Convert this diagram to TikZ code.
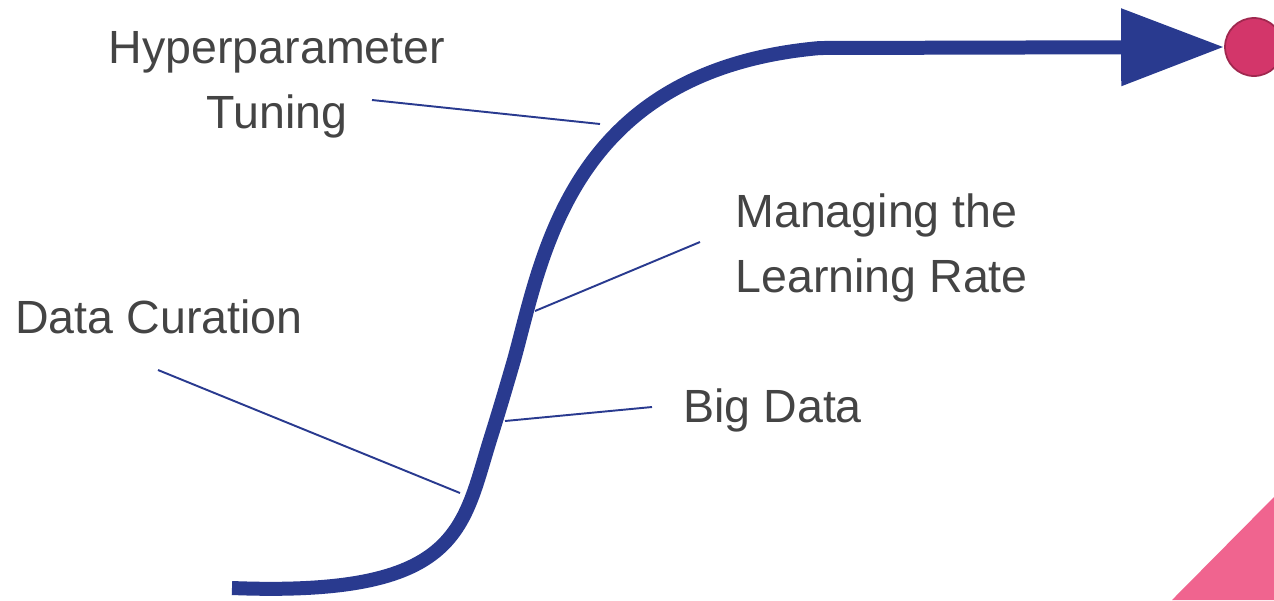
\documentclass[tikz,border=0pt]{standalone}
\usepackage{fontspec}
\setmainfont{Liberation Sans}
\usetikzlibrary{arrows.meta}
\definecolor{curveblue}{HTML}{293A8F}
\definecolor{goalred}{HTML}{D3366A}
\definecolor{goalrim}{HTML}{A0284F}
\definecolor{cornerpink}{HTML}{F0648F}
\definecolor{labelgray}{HTML}{444444}

\begin{document}
\begin{tikzpicture}[
        x=0.02cm, y=-0.02cm,
        label/.style={text=labelgray, inner sep=0pt, font=\fontsize{26.5}{37}\selectfont},
        curve/.style={line width=0.28cm, curveblue},
        leader/.style={line width=1.1pt, curveblue}
      ]
        \useasboundingbox (0,0) rectangle (1274,600);
        % corner decoration
        \fill[cornerpink] (1172,600) -- (1274,497) -- (1274,600) -- cycle;
        % goal and the rising curve
        \node[circle, minimum size=1.16cm, inner sep=0pt, fill=goalred, draw=goalrim, line width=1pt] (goal) at (1254,47) {};
        \coordinate (start) at (232,588);
        \coordinate (knee) at (490,440);
        \coordinate (mid) at (514,360);
        \coordinate (top) at (820,48);
        \draw[curve, -{Triangle[length=2.06cm, width=1.48cm]}]
          (start) .. controls (460,597) and (462,530) .. (knee)
          .. controls (500,408) and (505,391) .. (mid)
          .. controls (543,255) and (570,70) .. (top) -- (goal.west);
        % labels (base is the last line)
        \node[label, anchor=base, align=center] (tuning) at (277,128) {Hyperparameter\\Tuning};
        \node[label, anchor=base west, align=left] (lrate) at (735,292) {Managing the\\Learning Rate};
        \node[label, anchor=base west] (curation) at (15,333) {Data Curation};
        \node[label, anchor=base west] (bigdata) at (683,422) {Big Data};
        % leader lines onto the curve
        \coordinate (tuningA) at (372,100);
        \coordinate (tuningB) at (600,124);
        \coordinate (lrateA) at (700,242);
        \coordinate (lrateB) at (535,311);
        \coordinate (curationA) at (158,370);
        \coordinate (curationB) at (460,493);
        \coordinate (bigdataA) at (652,407);
        \coordinate (bigdataB) at (505,421);
        \draw[leader] (tuningA) -- (tuningB);
        \draw[leader] (lrateA) -- (lrateB);
        \draw[leader] (curationA) -- (curationB);
        \draw[leader] (bigdataA) -- (bigdataB);
      \end{tikzpicture}
\end{document}
